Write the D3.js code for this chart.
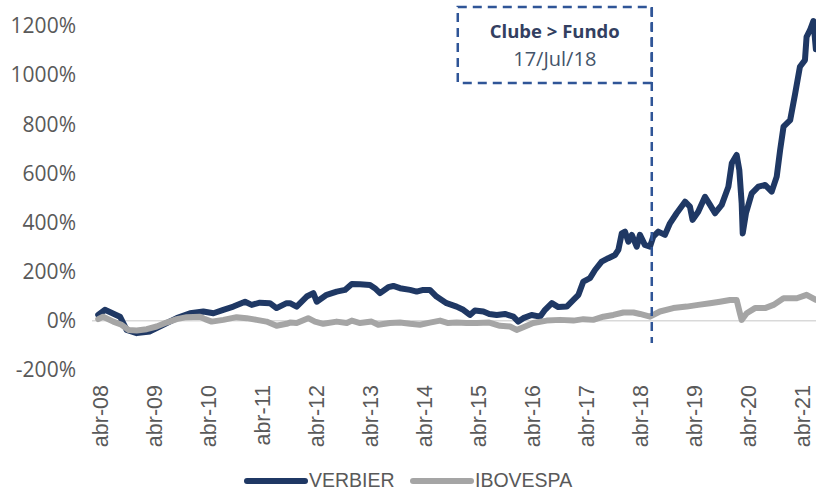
<!DOCTYPE html>
<html>
<head>
<meta charset="utf-8">
<script src="https://cdn.jsdelivr.net/npm/d3@7"></script>
<style>
  body { margin: 0; background: #fff; }
  svg { display: block; }
</style>
</head>
<body>
<svg id="chart"></svg>
<script>
// VERBIER (%)
const VERBIER_DATES = [
  '2008-03-20', '2008-05-04', '2008-08-14', '2008-09-28', '2008-12-05', '2009-03-05',
  '2009-06-03', '2009-09-02', '2009-12-01', '2010-03-01', '2010-05-08', '2010-07-14',
  '2010-09-20', '2010-12-08', '2011-01-22', '2011-03-18', '2011-05-25', '2011-07-09',
  '2011-09-15', '2011-10-08', '2011-11-22', '2012-01-29', '2012-03-14', '2012-04-06',
  '2012-06-12', '2012-08-19', '2012-10-14', '2012-11-29', '2013-01-24', '2013-04-01',
  '2013-05-04', '2013-06-08', '2013-08-03', '2013-09-06', '2013-10-21', '2013-12-28',
  '2014-02-11', '2014-03-27', '2014-05-11', '2014-06-25', '2014-09-01', '2014-11-08',
  '2014-12-23', '2015-02-06', '2015-03-12', '2015-05-08', '2015-06-17', '2015-08-06',
  '2015-10-01', '2015-11-27', '2015-12-30', '2016-02-02', '2016-03-29', '2016-05-25',
  '2016-06-28', '2016-08-13', '2016-09-26', '2016-11-22', '2017-01-06', '2017-02-09',
  '2017-03-14', '2017-04-28', '2017-06-01', '2017-07-16', '2017-08-30', '2017-10-14',
  '2017-11-06', '2017-11-29', '2017-12-21', '2018-01-13', '2018-02-05', '2018-03-10',
  '2018-04-01', '2018-05-04', '2018-06-08', '2018-06-30', '2018-08-03', '2018-09-17',
  '2018-10-21', '2018-12-05', '2019-01-31', '2019-03-05', '2019-03-23', '2019-04-30',
  '2019-06-15', '2019-07-19', '2019-08-22', '2019-10-06', '2019-11-20', '2019-12-13',
  '2020-01-15', '2020-02-02', '2020-02-18', '2020-02-25', '2020-03-18', '2020-04-26',
  '2020-06-10', '2020-07-25', '2020-09-08', '2020-10-12', '2020-11-04', '2020-11-27',
  '2021-01-11', '2021-02-14', '2021-03-18', '2021-04-21', '2021-05-02', '2021-05-25',
  '2021-06-17', '2021-07-04'
];
const VERBIER_VALUES = [
  24, 45, 17, -37, -50, -43,
  -16, 11, 31, 38, 31, 45,
  58, 78, 65, 74, 72, 52,
  72, 72, 58, 99, 113, 78,
  106, 119, 126, 150, 149, 146,
  133, 113, 137, 142, 133, 126,
  119, 126, 126, 99, 72, 58,
  45, 24, 42, 38, 28, 24,
  28, 17, -3, 11, 24, 17,
  45, 72, 56, 58, 85, 106,
  160, 174, 207, 241, 255, 268,
  289, 356, 363, 322, 350, 302,
  350, 309, 302, 343, 363, 350,
  397, 438, 485, 465, 411, 444,
  505, 472, 438, 472, 546, 641,
  675, 614, 478, 356, 438, 519,
  546, 553, 526, 587, 695, 790,
  817, 926, 1034, 1061, 1156, 1183,
  1220, 1105
];

// IBOVESPA (%)
const IBOV_DATES = [
  '2008-03-20', '2008-04-22', '2008-06-30', '2008-08-25', '2008-10-10', '2008-12-05',
  '2009-02-11', '2009-04-19', '2009-06-25', '2009-09-02', '2009-11-08', '2010-02-06',
  '2010-03-12', '2010-04-26', '2010-07-14', '2010-10-12', '2010-12-19', '2011-02-25',
  '2011-05-02', '2011-07-09', '2011-09-15', '2011-10-08', '2011-11-22', '2012-02-08',
  '2012-03-25', '2012-05-20', '2012-08-19', '2012-10-26', '2012-11-29', '2013-01-24',
  '2013-04-12', '2013-05-27', '2013-08-14', '2013-10-21', '2013-12-28', '2014-03-05',
  '2014-05-11', '2014-07-19', '2014-09-12', '2014-11-08', '2015-01-15', '2015-03-23',
  '2015-06-17', '2015-08-28', '2015-11-04', '2015-12-19', '2016-02-02', '2016-04-09',
  '2016-07-09', '2016-10-08', '2017-01-06', '2017-03-14', '2017-05-20', '2017-07-27',
  '2017-10-03', '2017-12-10', '2018-02-16', '2018-04-01', '2018-06-08', '2018-08-14',
  '2018-11-12', '2019-02-11', '2019-04-30', '2019-07-19', '2019-09-24', '2019-12-01',
  '2020-01-15', '2020-02-06', '2020-02-18', '2020-03-23', '2020-05-18', '2020-07-25',
  '2020-09-20', '2020-11-27', '2021-02-25', '2021-05-02', '2021-07-04'
];
const IBOV_VALUES = [
  7, 17, -3, -16, -37, -39,
  -34, -23, -7, 7, 15, 17,
  7, -3, 4, 15, 11, 4,
  -3, -20, -12, -7, -9, 11,
  -3, -12, -3, -9, 1, -9,
  -3, -16, -9, -7, -12, -16,
  -7, 1, -9, -7, -9, -9,
  -7, -20, -23, -37, -26, -9,
  1, 4, 1, 7, 4, 17,
  24, 34, 34, 28, 17, 38,
  52, 58, 65, 72, 78, 85,
  85, 31, 4, 31, 52, 52,
  65, 92, 92, 106, 85
];

const Y_TICKS = [-200, 0, 200, 400, 600, 800, 1000, 1200];
const X_TICK_YEARS = [2008, 2009, 2010, 2011, 2012, 2013, 2014, 2015, 2016, 2017, 2018, 2019, 2020, 2021];
const SERIES_NAMES = ['VERBIER', 'IBOVESPA'];
const SERIES_COLORS = ['#1f3864', '#a5a5a5'];
const EVENT_DATE = '2018-07-17';
const EVENT_TITLE = 'Clube > Fundo';
const EVENT_LABEL = '17/Jul/18';

const WIDTH = 816;
const HEIGHT = 490;
const parseDate = d3.timeParse('%Y-%m-%d');

const svg = d3.select('#chart')
    .attr('width', WIDTH)
    .attr('height', HEIGHT);

/* ************** SCALES ************** */
const x = d3.scaleTime()
    .domain([new Date(2008, 3, 1), new Date(2021, 3, 1)])
    .range([100, 802]);
const y = d3.scaleLinear()
    .domain([-200, 1200])
    .range([370, 26]);

/* ************** AXES ************** */
// zero line
svg.append('line')
    .attr('x1', 92).attr('x2', WIDTH)
    .attr('y1', y(0)).attr('y2', y(0))
    .attr('stroke', '#d9d9d9')
    .attr('stroke-width', 1.5);

const yAxis = svg.append('g')
    .attr('transform', 'translate(76,0)')
    .call(d3.axisLeft(y).tickValues(Y_TICKS).tickSize(0).tickPadding(0).tickFormat(d => d + '%'));
yAxis.select('.domain').remove();
yAxis.selectAll('text')
    .attr('fill', '#595959')
    .style('font-family', '"Open Sans", sans-serif')
    .style('font-size', '21px');

const xTicks = X_TICK_YEARS.map(yr => new Date(yr, 3, 1));
const xAxis = svg.append('g')
    .attr('transform', 'translate(0,385)')
    .call(d3.axisBottom(x).tickValues(xTicks).tickSize(0)
        .tickFormat(d => 'abr-' + d3.timeFormat('%y')(d)));
xAxis.select('.domain').remove();
xAxis.selectAll('text')
    .attr('fill', '#595959')
    .attr('transform', 'rotate(-90)')
    .attr('x', 0)
    .attr('y', 0)
    .attr('dy', '0.35em')
    .attr('text-anchor', 'end')
    .style('font-family', '"Liberation Sans", Arial, sans-serif')
    .style('font-size', '21.5px');

/* ************** LINES ************** */
const line = d3.line()
    .x(d => x(d.date))
    .y(d => y(d.value));

const verbier = VERBIER_DATES.map((d, i) => ({date: parseDate(d), value: VERBIER_VALUES[i]}));
const ibov = IBOV_DATES.map((d, i) => ({date: parseDate(d), value: IBOV_VALUES[i]}));

[verbier, ibov].forEach((series, i) => {
    svg.append('path')
        .datum(series)
        .attr('d', line)
        .attr('fill', 'none')
        .attr('stroke', SERIES_COLORS[i])
        .attr('stroke-width', 6)
        .attr('stroke-linejoin', 'round')
        .attr('stroke-linecap', 'round');
});

/* ************** ANNOTATION ************** */
const ex = x(parseDate(EVENT_DATE)) - 4;
svg.append('line')
    .attr('x1', ex).attr('x2', ex)
    .attr('y1', 7).attr('y2', 343)
    .attr('stroke', '#2f5597')
    .attr('stroke-width', 2.5)
    .attr('stroke-dasharray', '9,6');

svg.append('rect')
    .attr('x', ex - 194).attr('y', 7)
    .attr('width', 194).attr('height', 76)
    .attr('fill', 'none')
    .attr('stroke', '#2f5597')
    .attr('stroke-width', 2.5)
    .attr('stroke-dasharray', '9,6');

svg.append('text')
    .attr('x', ex - 97).attr('y', 38)
    .attr('text-anchor', 'middle')
    .attr('fill', '#333f61')
    .style('font-family', '"Open Sans", sans-serif')
    .style('font-weight', 'bold')
    .style('font-size', '18.5px')
    .text(EVENT_TITLE);

svg.append('text')
    .attr('x', ex - 97).attr('y', 66)
    .attr('text-anchor', 'middle')
    .attr('fill', '#44546a')
    .style('font-family', '"Open Sans", sans-serif')
    .style('font-size', '20px')
    .text(EVENT_LABEL);

/* ************** LEGEND ************** */
const LEGEND_X = [247, 413];
const legend = svg.append('g');
SERIES_NAMES.forEach((name, i) => {
    legend.append('line')
        .attr('x1', LEGEND_X[i]).attr('x2', LEGEND_X[i] + 58)
        .attr('y1', 481).attr('y2', 481)
        .attr('stroke', SERIES_COLORS[i])
        .attr('stroke-width', 6)
        .attr('stroke-linecap', 'round');
    legend.append('text')
        .attr('x', LEGEND_X[i] + 62).attr('y', 487)
        .attr('fill', '#595959')
        .style('font-family', '"Liberation Sans", Arial, sans-serif')
        .style('font-size', '19.5px')
        .text(name);
});
</script>
</body>
</html>
